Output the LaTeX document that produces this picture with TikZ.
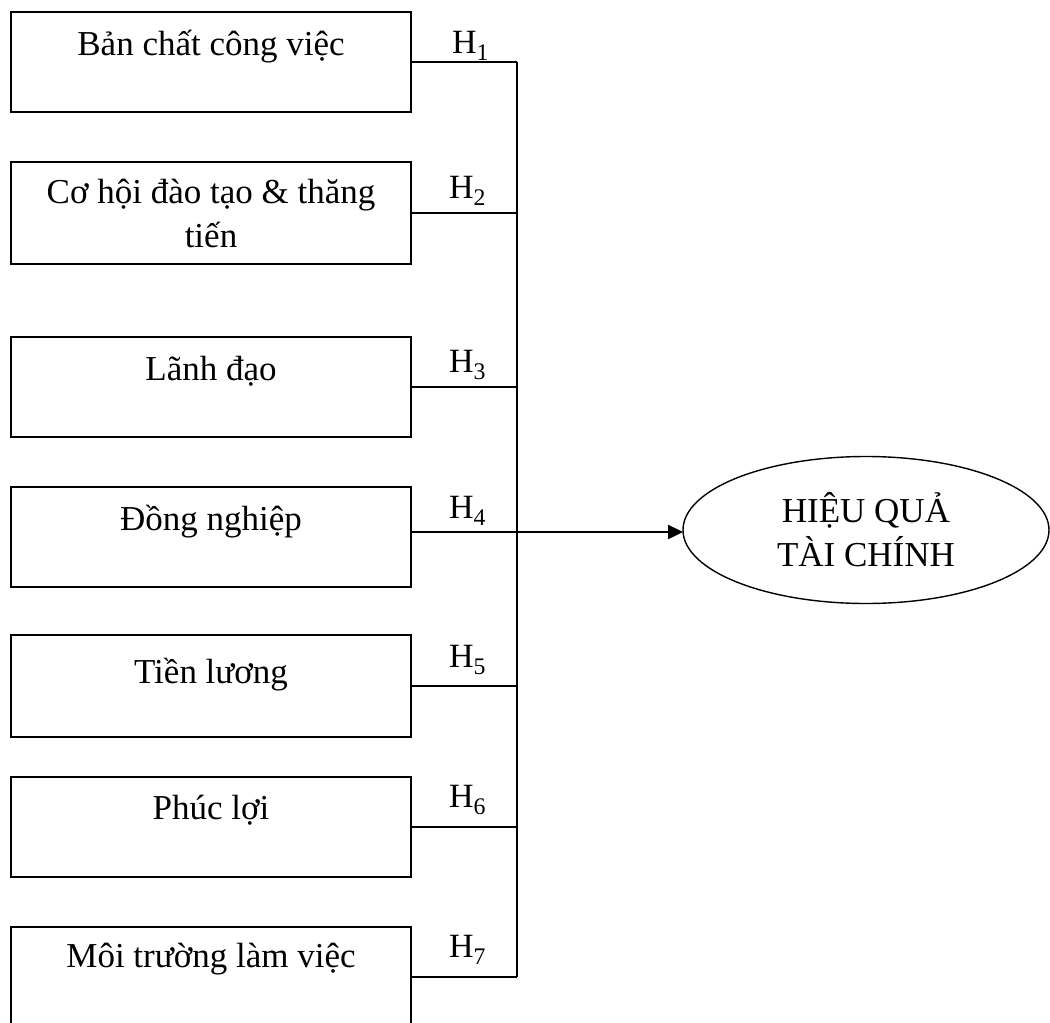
\documentclass[tikz,border=0pt]{standalone}
\usepackage{fontspec}
\setmainfont{Liberation Serif}
\usetikzlibrary{shapes.geometric,arrows.meta}
\begin{document}
\begin{tikzpicture}[x=1pt,y=-1pt,
  every node/.style={inner sep=0pt,outer sep=0pt},
  boxnode/.style={draw,line width=1.4pt,minimum width=400pt,anchor=north},
  txt/.style={anchor=base,font=\fontsize{35}{44}\selectfont},
  hlab/.style={anchor=base west,font=\fontsize{34}{44}\selectfont},
  link/.style={line width=1.5pt},
]
\useasboundingbox (0,0) rectangle (1050,1023);
\coordinate (sp) at (517,0);
% boxes
\node[boxnode,minimum height=100pt] (b1) at (211,12) {};
\node[boxnode,minimum height=102pt] (b2) at (211,162) {};
\node[boxnode,minimum height=100pt] (b3) at (211,337) {};
\node[boxnode,minimum height=100pt] (b4) at (211,487) {};
\node[boxnode,minimum height=102pt] (b5) at (211,635) {};
\node[boxnode,minimum height=100pt] (b6) at (211,777) {};
\node[boxnode,minimum height=100pt] (b7) at (211,927) {};
% texts
\node[txt] (t1) at (211,55) {Bản chất công việc};
\node[txt] (t2a) at (211,203) {Cơ hội đào tạo \& thăng};
\node[txt] (t2b) at (211,247) {tiến};
\node[txt] (t3) at (211,380) {Lãnh đạo};
\node[txt] (t4) at (211,530) {Đồng nghiệp};
\node[txt] (t5) at (211,683) {Tiền lương};
\node[txt] (t6) at (211,819) {Phúc lợi};
\node[txt] (t7) at (211,967) {Môi trường làm việc};
% H labels
\node[hlab] (h1) at (452,53) {H\textsubscript{1}};
\node[hlab] (h2) at (449,198) {H\textsubscript{2}};
\node[hlab] (h3) at (449,372) {H\textsubscript{3}};
\node[hlab] (h4) at (449,518) {H\textsubscript{4}};
\node[hlab] (h5) at (449,667) {H\textsubscript{5}};
\node[hlab] (h6) at (449,807) {H\textsubscript{6}};
\node[hlab] (h7) at (449,957) {H\textsubscript{7}};
% ellipse
\node[draw,ellipse,line width=1.4pt,minimum width=366pt,minimum height=147pt,
      align=center,font=\fontsize{35}{44}\selectfont] (el) at (866,530)
      {HIỆU QUẢ\\TÀI CHÍNH};
% connectors
\draw[link] (b1.east) -- (b1.east -| sp);
\draw[link] (b2.east) -- (b2.east -| sp);
\draw[link] (b3.east) -- (b3.east -| sp);
\draw[link] (b5.east) -- (b5.east -| sp);
\draw[link] (b6.east) -- (b6.east -| sp);
\draw[link] (b7.east) -- (b7.east -| sp);
\draw[link] (b1.east -| sp) -- (b7.east -| sp);
\draw[line width=2.4pt,-{Triangle[length=15pt,width=14pt]}]
  ([yshift=5pt]b4.east) -- ([yshift=5pt]b4.east -| el.west);
\end{tikzpicture}
\end{document}
